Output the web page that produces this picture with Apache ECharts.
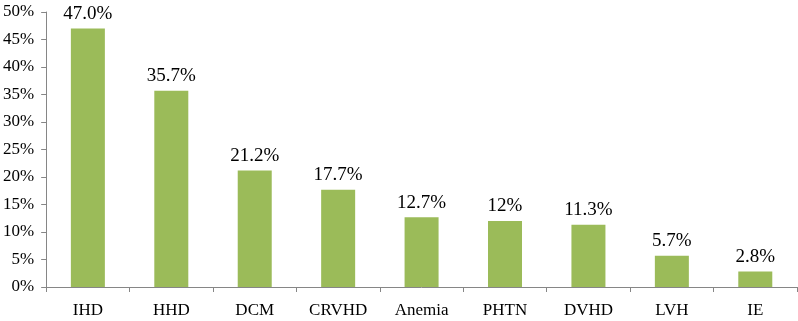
<!DOCTYPE html>
<html>
<head>
<meta charset="utf-8">
<script src="https://cdn.jsdelivr.net/npm/echarts@6/dist/echarts.min.js"></script>
<style>
  html, body { margin: 0; padding: 0; background: #fff; }
  #chart { width: 798px; height: 321px; }
</style>
</head>
<body>
<div id="chart"></div>
<script>
  // categories and values
  var categories = ['IHD', 'HHD', 'DCM', 'CRVHD', 'Anemia', 'PHTN', 'DVHD', 'LVH', 'IE'];
  var values = [47.0, 35.7, 21.2, 17.7, 12.7, 12, 11.3, 5.7, 2.8];
  var valueLabels = ['47.0%', '35.7%', '21.2%', '17.7%', '12.7%', '12%', '11.3%', '5.7%', '2.8%'];

  var font = '"Liberation Serif", "Times New Roman", serif';
  var mychart = echarts.init(document.getElementById('chart'));
  var option = {
    animation: false,
    grid: { left: 44, right: 1, top: 12, bottom: 34, containLabel: false },
    xAxis: {
      type: 'category',
      data: categories,
      axisLine: { lineStyle: { color: '#868686', width: 1 } },
      axisTick: { show: true, length: 5, alignWithLabel: false, lineStyle: { color: '#868686' } },
      axisLabel: { color: '#000', fontFamily: font, fontSize: 17, margin: 15 }
    },
    yAxis: {
      type: 'value',
      min: 0,
      max: 50,
      interval: 5,
      axisLine: { show: true, lineStyle: { color: '#868686', width: 1 } },
      axisTick: { show: true, length: 5, lineStyle: { color: '#868686' } },
      splitLine: { show: false },
      axisLabel: {
        color: '#000', fontFamily: font, fontSize: 17, margin: 12,
        formatter: function (v) { return v + '%'; }
      }
    },
    series: [{
      type: 'bar',
      data: values,
      barWidth: 34,
      itemStyle: { color: '#9BBB59' },
      label: {
        show: true,
        position: 'top',
        distance: 5,
        color: '#000',
        fontFamily: font,
        fontSize: 19,
        formatter: function (p) { return valueLabels[p.dataIndex]; }
      }
    }]
  };
  mychart.setOption(option);
</script>
</body>
</html>
